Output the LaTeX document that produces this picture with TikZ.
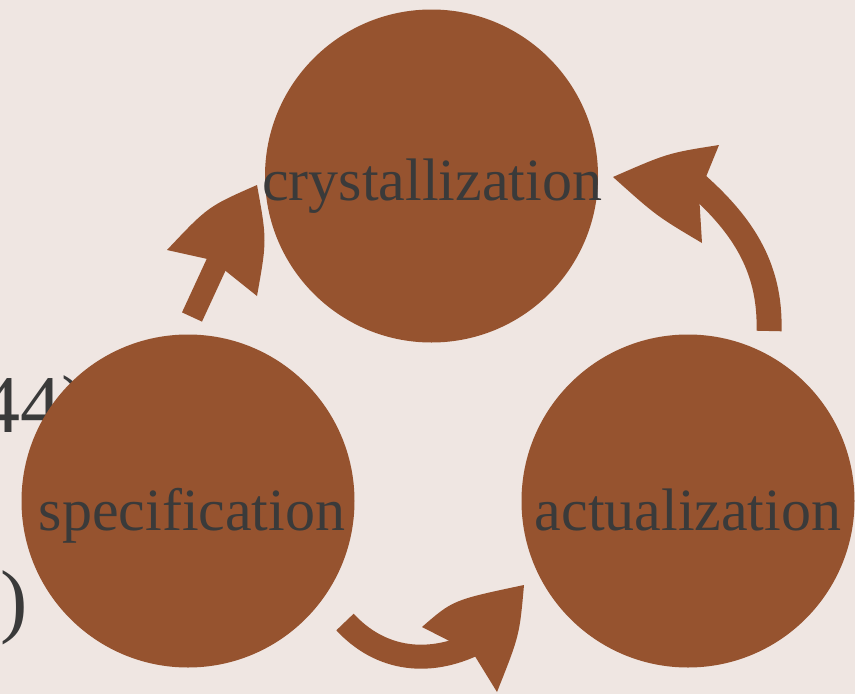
\documentclass[tikz,border=0pt]{standalone}
\usepackage{fontspec}
\setmainfont{Liberation Serif}
\definecolor{bgc}{HTML}{EFE6E2}
\definecolor{brn}{HTML}{96532F}
\definecolor{txt}{HTML}{3A3A3A}
\begin{document}
\begin{tikzpicture}[x=1pt,y=-1pt,
  disc/.style={circle,fill=brn,minimum size=333pt,inner sep=0pt},
  lbl/.style={text=txt,font=\fontsize{60}{72}\selectfont,inner sep=0pt,anchor=base},
  bigtxt/.style={text=txt,font=\fontsize{82}{96}\selectfont,inner sep=0pt,anchor=base west},
  shaft/.style={draw=brn,line cap=butt},
  head/.style={fill=brn}]
\fill[bgc] (0,0) rectangle (855,694);
\useasboundingbox (0,0) rectangle (855,694);
% background text partially hidden
\node[bigtxt] (t1) at (-21,432) {44)};
\node[bigtxt] (t2) at (0,627) {)};
% circles
\node[disc] (cry) at (431.5,176) {};
\node[disc] (spe) at (188,501) {};
\node[disc] (act) at (688,501) {};
\node[lbl] (lcry) at (432,200) {crystallization};
\node[lbl] (lspe) at (192,530) {specification};
\node[lbl] (lact) at (688,530) {actualization};
% arrow 1 (specification -> crystallization)
\draw[shaft,line width=22pt] (192,317) -- (222,252);
\fill[head] (257,185) .. controls (208,206.5) .. (167,250) -- (212,260) -- (257,296) .. controls (267,240) .. cycle;
% arrow 2 (actualization -> crystallization)
\draw[shaft,line width=25pt] (769,331) .. controls (771,265) and (740,222) .. (693,181);
\fill[head] (613,177) .. controls (668,153) .. (719,145) -- (699,194) -- (702,243) .. controls (656.5,216) .. cycle;
% arrow 3 (specification -> actualization)
\draw[shaft,line width=24pt] (345,622) .. controls (380,660) and (430,668) .. (482,640);
\fill[head] (524,585) .. controls (453,600) .. (422,627) -- (473,653) -- (497,692) .. controls (519.5,635.5) .. cycle;
\end{tikzpicture}
\end{document}
